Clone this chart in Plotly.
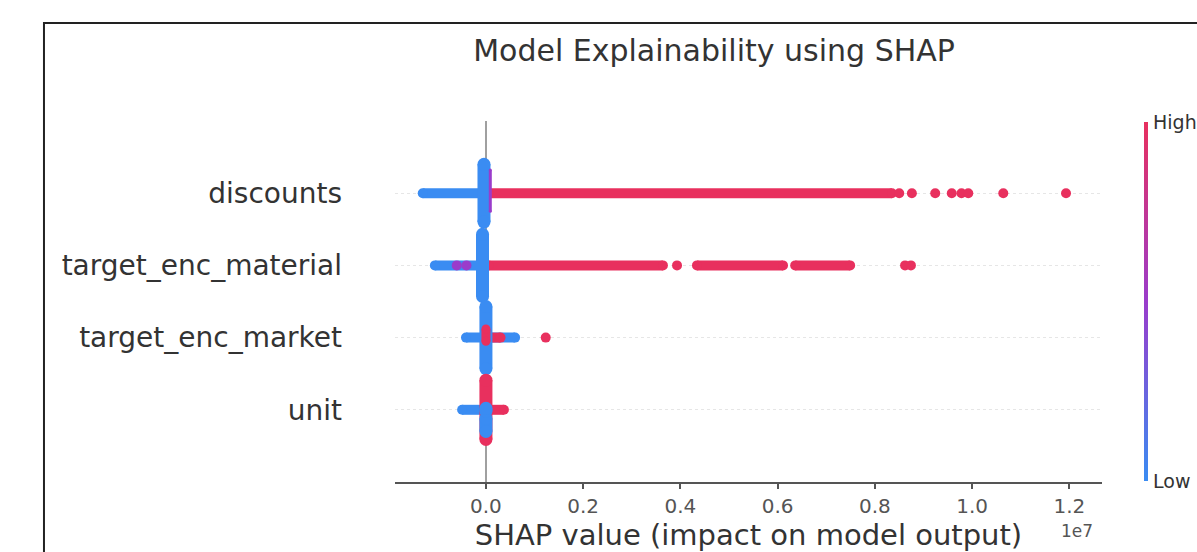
import plotly.graph_objects as go

# Features in display order (top to bottom) and their row positions
features = ["discounts", "target_enc_material", "target_enc_market", "unit"]
rows = [3, 2, 1, 0]

RED = "#e8305e"
BLUE = "#3a8cf2"
PURPLE = "#9a3ccb"

# Densely packed runs of SHAP values: (feature, start, end, colour)
dense_runs = [
    ("discounts", -1.30e6, -0.05e6, BLUE),
    ("discounts", 0.05e6, 8.35e6, RED),
    ("target_enc_material", -1.05e6, -0.10e6, BLUE),
    ("target_enc_material", 0.05e6, 3.64e6, RED),
    ("target_enc_material", 4.34e6, 6.11e6, RED),
    ("target_enc_material", 6.36e6, 7.49e6, RED),
    ("target_enc_market", -0.41e6, 0.60e6, BLUE),
    ("target_enc_market", 0.08e6, 0.30e6, RED),
    ("unit", -0.49e6, 0.00e6, BLUE),
    ("unit", 0.00e6, 0.37e6, RED),
]

# Vertical piles of near-zero values: (feature, shap value, spread low, spread high, colour, thickness)
piles = [
    ("discounts", -0.04e6, -0.40, 0.40, BLUE, 13),
    ("discounts", 0.09e6, -0.25, 0.32, PURPLE, 3),
    ("target_enc_material", -0.07e6, -0.43, 0.43, BLUE, 13),
    ("target_enc_market", 0.00e6, -0.43, 0.43, BLUE, 13),
    ("target_enc_market", 0.00e6, -0.05, 0.12, RED, 9),
    ("unit", 0.00e6, -0.41, 0.41, RED, 13),
    ("unit", 0.00e6, -0.30, -0.12, BLUE, 13),
    ("unit", 0.00e6, -0.02, 0.02, BLUE, 13),
]

# Individual outlying points: (feature, shap value, colour)
outliers = [
    ("discounts", 8.50e6, RED), ("discounts", 8.76e6, RED),
    ("discounts", 9.24e6, RED), ("discounts", 9.58e6, RED),
    ("discounts", 9.78e6, RED), ("discounts", 9.92e6, RED),
    ("discounts", 10.64e6, RED), ("discounts", 11.93e6, RED),
    ("target_enc_material", -0.60e6, PURPLE), ("target_enc_material", -0.40e6, PURPLE),
    ("target_enc_material", 3.93e6, RED),
    ("target_enc_material", 8.62e6, RED), ("target_enc_material", 8.74e6, RED),
    ("target_enc_market", 1.23e6, RED),
]

tick_vals = [0, 2e6, 4e6, 6e6, 8e6, 10e6, 12e6]
tick_text = ["0.0", "0.2", "0.4", "0.6", "0.8", "1.0", "1.2"]

row_of = dict(zip(features, rows))
fig = go.Figure()

for feat, x0, x1, col in dense_runs:
    y = row_of[feat]
    fig.add_trace(go.Scatter(
        x=[x0, x1], y=[y, y], mode="lines+markers",
        line=dict(color=col, width=10), marker=dict(color=col, size=10),
        showlegend=False, hoverinfo="skip"))

for feat, x, lo, hi, col, w in piles:
    y = row_of[feat]
    fig.add_trace(go.Scatter(
        x=[x, x], y=[y + lo, y + hi], mode="lines+markers",
        line=dict(color=col, width=w), marker=dict(color=col, size=w),
        showlegend=False, hoverinfo="skip"))

fig.add_trace(go.Scatter(
    x=[o[1] for o in outliers], y=[row_of[o[0]] for o in outliers],
    mode="markers", marker=dict(color=[o[2] for o in outliers], size=10),
    showlegend=False, hoverinfo="skip"))

# Feature value colour bar
fig.add_trace(go.Scatter(
    x=[0, 0], y=[-5, -5], mode="markers",
    marker=dict(color=[0, 1], cmin=0, cmax=1, opacity=0,
                colorscale=[[0, BLUE], [0.5, PURPLE], [1, RED]],
                showscale=True,
                colorbar=dict(thickness=4, lenmode="pixels", len=359,
                              x=(1144 - 395) / 707, xanchor="left", xpad=0,
                              y=0.5, yanchor="middle", ypad=0,
                              outlinewidth=0, ticks="", showticklabels=False)),
    showlegend=False, hoverinfo="skip"))

fig.update_layout(
    width=1197, height=552,
    margin=dict(l=395, r=95, t=121, b=70),
    paper_bgcolor="white", plot_bgcolor="white",
    font=dict(family="DejaVu Sans", color="#333333"),
    title=dict(text="Model Explainability using SHAP", x=714 / 1197, xanchor="center",
               y=1 - 50 / 552, yanchor="middle", font=dict(size=30, color="#333333")),
    xaxis=dict(range=[-1.87e6, 12.67e6], tickvals=tick_vals, ticktext=tick_text,
               showgrid=False, zeroline=True, zerolinecolor="#a0a0a0", zerolinewidth=2,
               showline=True, linecolor="#555555", linewidth=2,
               ticks="outside", ticklen=5, tickcolor="#555555", tickwidth=1.5,
               tickfont=dict(size=20, color="#555555"),
               title=dict(text="SHAP value (impact on model output)", standoff=11,
                          font=dict(size=29, color="#333333")),
               automargin=False),
    yaxis=dict(range=[-1, 4], tickvals=rows, ticktext=features,
               showgrid=True, gridcolor="#e6e6e6", griddash="dot", gridwidth=1,
               zeroline=False, showline=False, ticks="",
               ticklabelstandoff=52, tickfont=dict(size=28, color="#333333"),
               automargin=False),
    shapes=[dict(type="rect", xref="paper", yref="paper",
                 x0=-0.4965, x1=1.6, y0=-0.6, y1=1.2715,
                 line=dict(color="#222222", width=2), fillcolor="rgba(0,0,0,0)")],
    annotations=[
        dict(text="High", xref="paper", yref="paper", x=(1151 - 395) / 707, y=(482 - 122) / 361,
             xanchor="left", yanchor="middle", showarrow=False,
             font=dict(size=19, color="#333333")),
        dict(text="Low", xref="paper", yref="paper", x=(1151 - 395) / 707, y=(482 - 481) / 361,
             xanchor="left", yanchor="middle", showarrow=False,
             font=dict(size=19, color="#333333")),
        dict(text="1e7", xref="paper", yref="paper", x=(1077 - 395) / 707, y=(482 - 531) / 361,
             xanchor="center", yanchor="middle", showarrow=False,
             font=dict(size=17, color="#555555")),
    ],
)

fig.write_html("out.html")
